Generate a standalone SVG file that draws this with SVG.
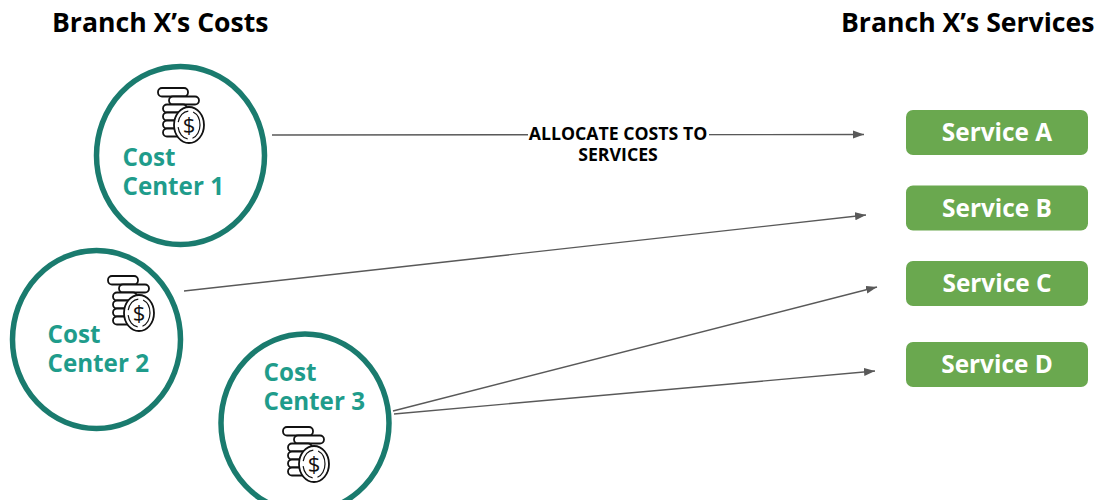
<svg xmlns="http://www.w3.org/2000/svg" width="1097" height="500" viewBox="0 0 1097 500">
<style>
text{font-family:"Open Sans","Noto Sans",sans-serif;font-weight:700}
.h{font-size:26.6px;fill:#000}
.c{font-size:24.200px;fill:#1f9c8b}
.s{font-size:24.400px;fill:#fff;text-anchor:middle}
.l{font-size:17.700px;fill:#000;text-anchor:middle}
.ring{fill:#fff;stroke:#1a7b6e;stroke-width:5.500}
.box{fill:#6aa84f}
.e{fill:none;stroke:#595959;stroke-width:1.4;marker-end:url(#a)}
.i{fill:#fff;stroke:#111;stroke-width:1.800}
</style>
<defs>
<marker id="a" markerUnits="userSpaceOnUse" markerWidth="12" markerHeight="10" refX="11" refY="4" orient="auto"><path d="M0 0L11 4L0 8Z" fill="#595959"/></marker>
<g id="coins">
<rect class="i" x="-25" y="-36" width="30" height="8.500" rx="4"/>
<rect class="i" x="-14" y="-27.500" width="30" height="8" rx="4"/>
<rect class="i" x="-20" y="-19.500" width="24" height="8" rx="4"/>
<rect class="i" x="-20" y="-11.500" width="24" height="8" rx="4"/>
<rect class="i" x="-20" y="-3.500" width="24" height="8" rx="4"/>
<rect class="i" x="-20" y="4.500" width="24" height="8" rx="4"/>
<ellipse class="i" cx="6" cy="1" rx="15" ry="18"/>
<ellipse cx="6" cy="1" rx="11" ry="14" fill="none" stroke="#111" stroke-width="1.200" stroke-dasharray="16 5"/>
<text x="6" y="9" font-size="22" text-anchor="middle" style="font-weight:400;fill:#111">$</text>
</g>
</defs>
<text class="h" x="52" y="32">Branch X’s Costs</text>
<text class="h" x="841" y="32">Branch X’s Services</text>
<g id="edges">
<path class="e" d="M272 135L864 134.500"/>
<path class="e" d="M184 291L866 215"/>
<path class="e" d="M393 411L877 287"/>
<path class="e" d="M394 414L875 371"/>
</g>
<rect x="528" y="124" width="181" height="20" fill="#fff"/>
<text class="l"><tspan x="618" y="140">ALLOCATE COSTS TO</tspan><tspan x="618" y="161">SERVICES</tspan></text>
<g id="cc1"><ellipse class="ring" cx="180.500" cy="155.500" rx="84" ry="89"/><use href="#coins" x="183" y="124"/><text class="c"><tspan x="122.500" y="166">Cost</tspan><tspan x="122.500" y="195">Center 1</tspan></text></g>
<g id="cc2"><ellipse class="ring" cx="96.500" cy="339.500" rx="84" ry="89"/><use href="#coins" x="133" y="312"/><text class="c"><tspan x="47.500" y="343">Cost</tspan><tspan x="47.500" y="372">Center 2</tspan></text></g>
<g id="cc3"><ellipse class="ring" cx="305" cy="423" rx="84" ry="89"/><use href="#coins" x="308" y="463"/><text class="c"><tspan x="263.500" y="381">Cost</tspan><tspan x="263.500" y="410">Center 3</tspan></text></g>
<g id="sa"><rect class="box" x="906" y="110" width="182" height="45" rx="7"/><text class="s" x="997" y="141">Service A</text></g>
<g id="sb"><rect class="box" x="906" y="185.500" width="182" height="45" rx="7"/><text class="s" x="997" y="216.500">Service B</text></g>
<g id="sc"><rect class="box" x="906" y="261" width="182" height="45" rx="7"/><text class="s" x="997" y="292">Service C</text></g>
<g id="sd"><rect class="box" x="906" y="342" width="182" height="45" rx="7"/><text class="s" x="997" y="373">Service D</text></g>
</svg>
